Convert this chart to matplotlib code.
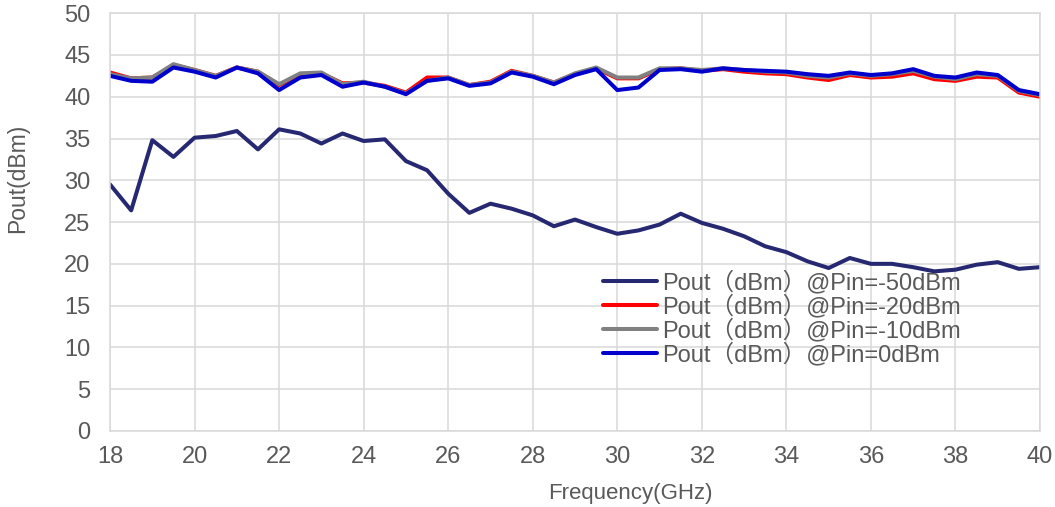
import matplotlib
matplotlib.use('Agg')
import matplotlib.pyplot as plt
import numpy as np

plt.rcParams['font.family'] = ['Liberation Sans', 'Noto Sans CJK SC', 'DejaVu Sans']

# frequency grid (GHz), one reading every 0.5 GHz
freq = np.arange(18.0, 40.01, 0.5)

pout_m50 = [29.5, 26.4, 34.8, 32.8, 35.1, 35.3, 35.9, 33.7, 36.1, 35.6,
            34.4, 35.6, 34.7, 34.9, 32.3, 31.2, 28.4, 26.1, 27.2, 26.6,
            25.8, 24.5, 25.3, 24.4, 23.6, 24.0, 24.7, 26.0, 24.9, 24.2,
            23.3, 22.1, 21.4, 20.3, 19.5, 20.7, 20.0, 20.0, 19.6, 19.1,
            19.3, 19.9, 20.2, 19.4, 19.6]
pout_m20 = [42.9, 42.2, 42.3, 43.8, 43.2, 42.5, 43.5, 43.0, 41.4, 42.6,
            42.8, 41.6, 41.7, 41.3, 40.5, 42.3, 42.3, 41.4, 41.8, 43.1,
            42.5, 41.7, 42.7, 43.4, 42.2, 42.2, 43.3, 43.4, 43.1, 43.3,
            43.0, 42.8, 42.7, 42.3, 42.0, 42.6, 42.3, 42.4, 42.8, 42.1,
            41.9, 42.4, 42.3, 40.5, 40.0]
pout_m10 = [42.7, 42.2, 42.3, 43.9, 43.2, 42.5, 43.5, 43.0, 41.5, 42.8,
            42.9, 41.5, 41.8, 41.2, 40.4, 41.9, 42.3, 41.4, 41.7, 43.0,
            42.5, 41.7, 42.8, 43.5, 42.3, 42.3, 43.4, 43.4, 43.2, 43.4,
            43.2, 43.0, 42.9, 42.5, 42.3, 42.8, 42.5, 42.7, 43.1, 42.4,
            42.1, 42.7, 42.5, 40.7, 40.2]
pout_0 = [42.5, 41.9, 41.8, 43.5, 43.0, 42.3, 43.5, 42.8, 40.8, 42.3,
          42.6, 41.2, 41.7, 41.2, 40.3, 41.9, 42.2, 41.3, 41.6, 42.9,
          42.4, 41.5, 42.6, 43.3, 40.8, 41.1, 43.2, 43.3, 43.0, 43.4,
          43.2, 43.1, 43.0, 42.7, 42.5, 42.9, 42.6, 42.8, 43.3, 42.5,
          42.3, 42.9, 42.6, 40.8, 40.3]

labels = ['Pout\uff08dBm\uff09@Pin=-50dBm',
          'Pout\uff08dBm\uff09@Pin=-20dBm',
          'Pout\uff08dBm\uff09@Pin=-10dBm',
          'Pout\uff08dBm\uff09@Pin=0dBm']
colors = ['#262872', '#FF0000', '#808080', '#0000CC']
xticks = list(range(18, 41, 2))
yticks = list(range(0, 51, 5))

grid_c = '#D9D9D9'
text_c = '#595959'

fig = plt.figure(figsize=(10.55, 5.07), dpi=100)
ax = fig.add_axes([0.1043, 0.150, 0.8815, 0.824])

for ys, c, lab in zip([pout_m50, pout_m20, pout_m10, pout_0], colors, labels):
    ax.plot(freq, ys, color=c, linewidth=2.9, label=lab,
            solid_joinstyle='round', solid_capstyle='round')

ax.set_xlim(18, 40)
ax.set_ylim(0, 50)
ax.set_xticks(xticks)
ax.set_yticks(yticks)
ax.grid(True, color=grid_c, linewidth=1.1)
ax.set_axisbelow(True)
for sp in ax.spines.values():
    sp.set_color(grid_c)
    sp.set_linewidth(1.1)
ax.tick_params(axis='both', length=0, labelsize=17, colors=text_c)
ax.tick_params(axis='y', pad=14)
ax.tick_params(axis='x', pad=11)

ax.set_xlabel('Frequency(GHz)', fontsize=16, color=text_c)
ax.xaxis.set_label_coords(0.559, -0.125)
ax.set_ylabel('Pout(dBm)', fontsize=16.5, color=text_c)
ax.yaxis.set_label_coords(-0.087, 0.605)

leg = ax.legend(loc='upper left', bbox_to_anchor=(0.5716, 0.4655),
                bbox_transform=fig.transFigure, frameon=False,
                fontsize=17, labelspacing=0.0, handlelength=2.3,
                handletextpad=0.22, borderpad=0, borderaxespad=0)
for t in leg.get_texts():
    t.set_color(text_c)

fig.savefig('out.png', dpi=100)
